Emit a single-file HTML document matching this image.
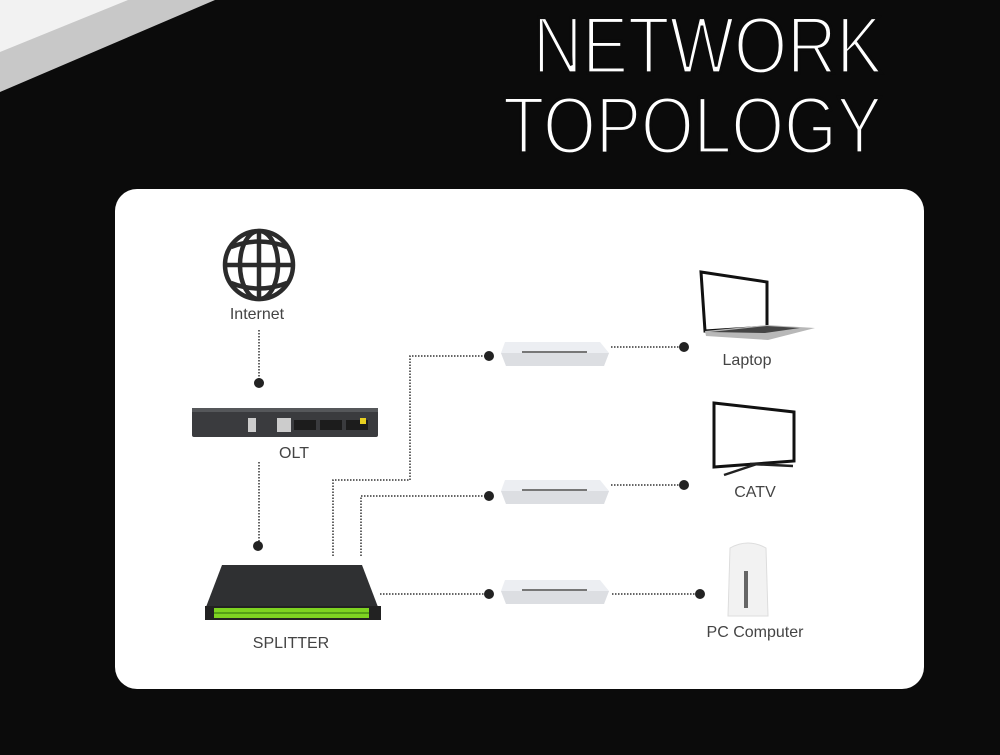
<!DOCTYPE html>
<html><head><meta charset="utf-8"><style>
html,body{margin:0;padding:0;background:#0b0b0b;width:1000px;height:755px;overflow:hidden}
svg{display:block}
</style></head><body>
<svg width="1000" height="755" viewBox="0 0 1000 755" xmlns="http://www.w3.org/2000/svg" font-family="Liberation Sans, sans-serif">
<rect width="1000" height="755" fill="#0b0b0b"/>
<polygon points="0,0 215,0 0,92" fill="#c8c8c8"/>
<polygon points="0,0 128,0 0,52" fill="#f2f2f2"/>
<g font-size="81" fill="#fff" stroke="#0b0b0b" stroke-width="3.2" text-anchor="end">
<text x="882" y="73" textLength="349" lengthAdjust="spacingAndGlyphs">NETWORK</text>
<text x="882" y="153" textLength="379" lengthAdjust="spacingAndGlyphs">TOPOLOGY</text>
</g>
<rect x="115" y="189" width="809" height="500" rx="22" fill="#fff"/>

<!-- globe -->
<g fill="none" stroke="#2b2b2b" stroke-width="4.5">
<circle cx="259" cy="265" r="34"/>
<ellipse cx="259" cy="265" rx="19" ry="34"/>
<line x1="259" y1="231" x2="259" y2="299"/>
<line x1="225" y1="265" x2="293" y2="265"/>
<path d="M231 247 Q259 236 287 247"/>
<path d="M231 283 Q259 294 287 283"/>
</g>
<g font-size="16" fill="#444" text-anchor="middle">
<text x="257" y="319">Internet</text>
<text x="294" y="458">OLT</text>
<text x="291" y="648">SPLITTER</text>
<text x="747" y="365">Laptop</text>
<text x="755" y="497">CATV</text>
<text x="755" y="637">PC Computer</text>
</g>

<!-- connectors -->
<g stroke="#333" stroke-width="1.5" stroke-dasharray="1.5 1.5" fill="none">
<line x1="259" y1="330" x2="259" y2="383"/>
<line x1="259" y1="462" x2="259" y2="546"/>
<polyline points="333,556 333,480 410,480 410,356 489,356"/>
<polyline points="361,556 361,496 489,496"/>
<line x1="380" y1="594" x2="489" y2="594"/>
<line x1="611" y1="347" x2="684" y2="347"/>
<line x1="611" y1="485" x2="684" y2="485"/>
<line x1="612" y1="594" x2="700" y2="594"/>
</g>
<g fill="#222">
<circle cx="259" cy="383" r="5"/>
<circle cx="258" cy="546" r="5"/>
<circle cx="489" cy="356" r="5"/>
<circle cx="489" cy="496" r="5"/>
<circle cx="489" cy="594" r="5"/>
<circle cx="684" cy="347" r="5"/>
<circle cx="684" cy="485" r="5"/>
<circle cx="700" cy="594" r="5"/>
</g>

<!-- OLT -->
<rect x="192" y="408" width="186" height="29" fill="#3a3b3e" rx="2"/>
<rect x="192" y="408" width="186" height="4" fill="#55575a"/>
<g fill="#ccc"><rect x="248" y="418" width="8" height="14"/><rect x="277" y="418" width="14" height="14"/></g>
<g fill="#1c1c1c"><rect x="294" y="420" width="22" height="10"/><rect x="320" y="420" width="22" height="10"/><rect x="346" y="420" width="22" height="10"/></g>
<rect x="360" y="418" width="6" height="6" fill="#e8d020"/>

<!-- splitter -->
<polygon points="222,565 362,565 378,607 206,607" fill="#2f3032"/>
<rect x="205" y="606" width="176" height="14" fill="#222"/>
<rect x="214" y="608" width="155" height="10" fill="#7ed321"/>
<g stroke="#2c6b0b" stroke-width="1"><line x1="214" y1="613" x2="369" y2="613"/></g>

<!-- routers -->
<g>
<path d="M505 342 L600 342 L609 353 L604 366 L506 366 L501 353 Z" fill="#eceef2"/>
<path d="M501 353 L609 353 L604 366 L506 366 Z" fill="#dcdee2"/>
<rect x="522" y="351" width="65" height="2" fill="#777"/>
</g>
<g transform="translate(0,138)">
<path d="M505 342 L600 342 L609 353 L604 366 L506 366 L501 353 Z" fill="#eceef2"/>
<path d="M501 353 L609 353 L604 366 L506 366 Z" fill="#dcdee2"/>
<rect x="522" y="351" width="65" height="2" fill="#777"/>
</g>
<g transform="translate(0,238)">
<path d="M505 342 L600 342 L609 353 L604 366 L506 366 L501 353 Z" fill="#eceef2"/>
<path d="M501 353 L609 353 L604 366 L506 366 Z" fill="#dcdee2"/>
<rect x="522" y="351" width="65" height="2" fill="#777"/>
</g>

<!-- laptop -->
<polygon points="701,272 767,282 767,327 705,331" fill="#fff" stroke="#111" stroke-width="3"/>
<polygon points="705,331 767,325 815,328 768,340 706,336" fill="#b8b8b8"/>
<polygon points="710,332 767,326 800,328 765,333" fill="#444"/>
<!-- tv -->
<polygon points="714,403 794,412 794,461 714,467" fill="#fff" stroke="#111" stroke-width="3"/>
<g stroke="#222" stroke-width="2.5"><line x1="724" y1="475" x2="757" y2="464"/><line x1="750" y1="464" x2="793" y2="466"/></g>
<!-- PC tower -->
<path d="M730 548 Q748 538 766 548 L768 616 L728 616 Z" fill="#f2f2f2" stroke="#ddd"/>
<rect x="744" y="571" width="4" height="37" fill="#666"/>
</svg>
</body></html>
